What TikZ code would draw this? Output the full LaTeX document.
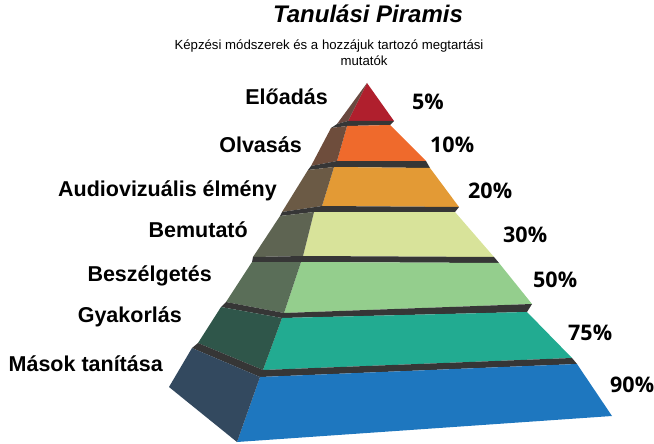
\documentclass[tikz,border=0pt]{standalone}
\usepackage{fontspec}
\setmainfont{Liberation Sans}
\newfontfamily\pctfont{Open Sans}
\definecolor{gap}{HTML}{363636}
\definecolor{redF}{HTML}{B01F2D}
\definecolor{redL}{HTML}{6A4940}
\definecolor{oraF}{HTML}{EF6A2C}
\definecolor{oraL}{HTML}{6E4D3C}
\definecolor{audF}{HTML}{E39A35}
\definecolor{audL}{HTML}{6B5A45}
\definecolor{bemF}{HTML}{D8E39A}
\definecolor{bemL}{HTML}{5E6452}
\definecolor{beszF}{HTML}{94CE8D}
\definecolor{beszL}{HTML}{5A6E58}
\definecolor{gyaF}{HTML}{22AB91}
\definecolor{gyaL}{HTML}{2F564A}
\definecolor{masF}{HTML}{1E77BF}
\definecolor{masL}{HTML}{33495F}
\tikzset{
  lbl/.style={anchor=base east, inner sep=0pt, font=\fontsize{21.5}{24}\selectfont\bfseries},
  pct/.style={anchor=base west, inner sep=0pt, font=\pctfont\fontsize{21.5}{24}\selectfont\bfseries},
}
\begin{document}
\begin{tikzpicture}[x=1pt,y=-1pt]
      \useasboundingbox (0,0) rectangle (654,444);
      \begin{scope}
        \fill[redF] (367,83) -- (348,121) -- (394,121) -- cycle;
        \fill[redL] (367,83) -- (337,124) -- (348,121) -- cycle;
        \fill[gap] (337,124) -- (348,121) -- (394,121) -- (390,125) -- (347,126) -- (331,128) -- cycle;
        \fill[oraF] (347,126) -- (390,125) -- (426,161) -- (337,161) -- cycle;
        \fill[oraL] (331,128) -- (347,126) -- (337,161) -- (311,166) -- cycle;
        \fill[gap] (311,166) -- (337,161) -- (426,161) -- (430,168) -- (334,167) -- (308,170) -- cycle;
        \fill[audF] (334,167) -- (430,168) -- (459,207) -- (322,206) -- cycle;
        \fill[audL] (308,170) -- (334,167) -- (322,206) -- (282,212) -- cycle;
        \fill[gap] (282,212) -- (322,206) -- (459,207) -- (455,212) -- (314,212) -- (280,216) -- cycle;
        \fill[bemF] (314,212) -- (455,212) -- (494,257) -- (303,256) -- cycle;
        \fill[bemL] (280,216) -- (314,212) -- (303,256) -- (253,257) -- cycle;
        \fill[gap] (253,257) -- (303,256) -- (494,257) -- (499,263) -- (301,262) -- (252,262) -- cycle;
        \fill[beszF] (301,262) -- (499,263) -- (532,304) -- (284,313) -- cycle;
        \fill[beszL] (252,262) -- (301,262) -- (284,313) -- (226,302) -- cycle;
        \fill[gap] (226,302) -- (284,313) -- (532,304) -- (527,312) -- (282,318) -- (221,307) -- cycle;
        \fill[gyaF] (282,318) -- (527,312) -- (572,358) -- (263,370) -- cycle;
        \fill[gyaL] (221,307) -- (282,318) -- (263,370) -- (198,343) -- cycle;
        \fill[gap] (198,343) -- (263,370) -- (572,358) -- (577,364) -- (260,377) -- (192,348) -- cycle;
        \fill[masF] (260,377) -- (577,364) -- (612,416) -- (237,442) -- cycle;
        \fill[masL] (192,348) -- (260,377) -- (237,442) -- (169,387) -- cycle;
      \end{scope}
      \path
        (368,23) node[anchor=base, inner sep=0pt, font=\fontsize{24}{28}\selectfont\bfseries\itshape] (title){Tanulási Piramis}
        (329,50) node[anchor=base, inner sep=0pt, font=\fontsize{13.2}{16}\selectfont] (sub1){Képzési módszerek és a hozzájuk tartozó megtartási}
        (364,66) node[anchor=base, inner sep=0pt, font=\fontsize{13.2}{16}\selectfont] (sub2){mutatók};
      \path
        (328,105) node[lbl] (l1){Előadás}
        (302,152) node[lbl] (l2){Olvasás}
        (277,196) node[lbl] (l3){Audiovizuális élmény}
        (248,237) node[lbl] (l4){Bemutató}
        (212,281) node[lbl] (l5){Beszélgetés}
        (182,322) node[lbl] (l6){Gyakorlás}
        (163,371) node[lbl] (l7){Mások tanítása};
      \path
        (412,110) node[pct] (p1){5\%}
        (430,152) node[pct] (p2){10\%}
        (468,198) node[pct] (p3){20\%}
        (503,242) node[pct] (p4){30\%}
        (533,287) node[pct] (p5){50\%}
        (568,340) node[pct] (p6){75\%}
        (610,392) node[pct] (p7){90\%};
    \end{tikzpicture}
\end{document}
